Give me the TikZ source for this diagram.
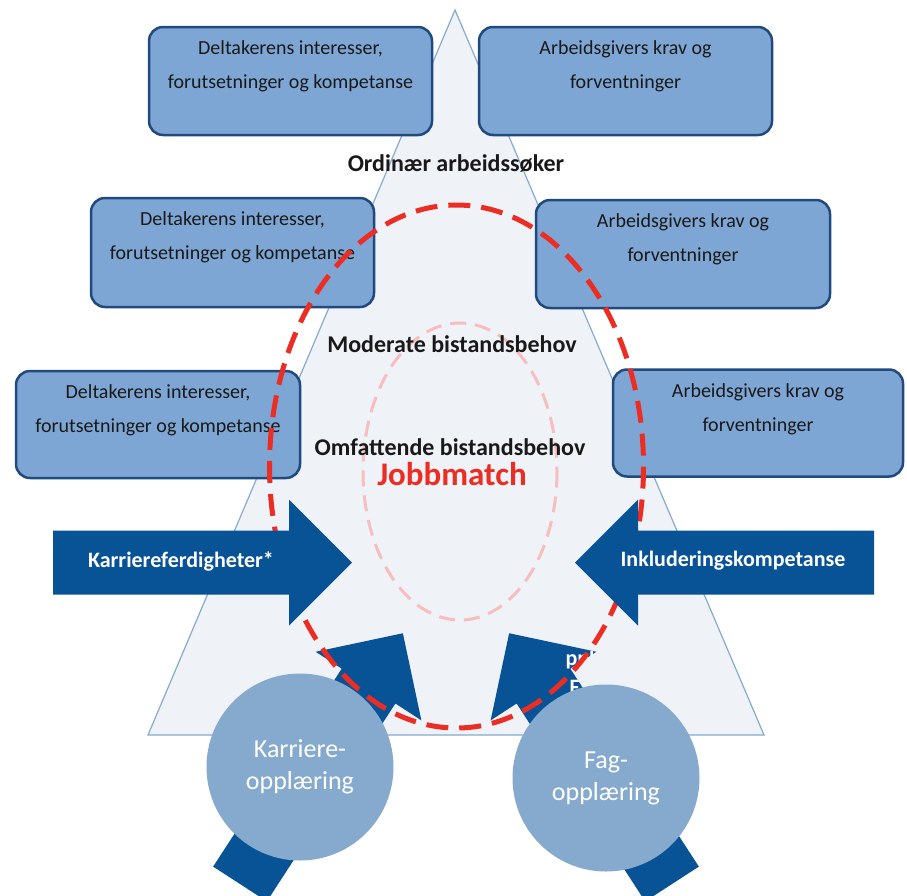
\documentclass[tikz,border=0pt]{standalone}
\usepackage{fontspec}
\setmainfont{Carlito}
\definecolor{boxblue}{RGB}{126,166,212}
\definecolor{boxedge}{RGB}{32,74,126}
\definecolor{arrowblue}{RGB}{8,82,150}
\definecolor{discblue}{RGB}{134,170,205}
\definecolor{trifill}{RGB}{239,242,247}
\definecolor{triedge}{RGB}{135,170,210}
\definecolor{jobred}{RGB}{236,45,35}
\definecolor{palered}{RGB}{246,190,190}
\tikzset{
    infobox/.style={draw=boxedge,fill=boxblue,line width=2.5pt,rounded corners=14pt},
    boxtext/.style={align=center,text=black!90,font=\fontsize{20}{34}\selectfont},
    level/.style={text=black!90,font=\bfseries\fontsize{24}{28}\selectfont},
    arrowtext/.style={text=white,font=\bfseries\fontsize{22}{28}\selectfont},
    disc/.style={circle,fill=discblue,minimum size=187pt,inner sep=0pt,align=center,text=white,font=\fontsize{26}{32}\selectfont},
    blockarrow/.pic={\fill[arrowblue] (0,-32) -- (236,-32) -- (236,-63) -- (299,0) -- (236,63) -- (236,32) -- (0,32) -- cycle;}
}
\begin{document}
\begin{tikzpicture}[x=1pt,y=-1pt]
    \fill[white] (0,0) rectangle (907,895);
    \useasboundingbox (0,0) rectangle (907,895);
    \draw[fill=trifill,draw=triedge,line width=1.2pt] (455,10) -- (764,735) -- (148,735) -- cycle;
    \draw[palered,line width=3pt,dash pattern=on 16pt off 9pt] (460,471.5) ellipse [x radius=97,y radius=148.5];
    \node[infobox,minimum width=283,minimum height=108] (delta1) at (290.5,81) {};
    \node[infobox,minimum width=293,minimum height=108] (arbeid1) at (625.5,81) {};
    \node[infobox,minimum width=283,minimum height=109] (delta2) at (232.5,252.5) {};
    \node[infobox,minimum width=294,minimum height=108] (arbeid2) at (683,254) {};
    \node[infobox,minimum width=284,minimum height=107] (delta3) at (158,424.5) {};
    \node[infobox,minimum width=290,minimum height=107] (arbeid3) at (758,423) {};
    \foreach \b in {delta1,delta2,delta3}
        \node[boxtext] (\b-txt) at ([yshift=-41pt]\b.north) {Deltakerens interesser,\\forutsetninger og kompetanse};
    \foreach \b in {arbeid1,arbeid2,arbeid3}
        \node[boxtext] (\b-txt) at ([yshift=-41pt]\b.north) {Arbeidsgivers krav og\\forventninger};
    \node[level] (ordinar) at (456,164) {Ordinær arbeidssøker};
    \node[level] (moderat) at (452,344) {Moderate bistandsbehov};
    \node[level] (omfatt) at (450,447) {Omfattende bistandsbehov};
    \node[text=jobred,font=\bfseries\fontsize{33}{36}\selectfont] (jobb) at (452,474) {Jobbmatch};
    \pic[rotate=57] at (240,884) {blockarrow};
    \pic[rotate=123] at (672,884) {blockarrow};
    \begin{scope}
        \clip[shift={(672,884)},rotate=123] (0,-32) -- (236,-32) -- (236,-63) -- (299,0) -- (236,63) -- (236,32) -- (0,32) -- cycle;
        \node[arrowtext,anchor=base west] (fagrest1) at (562,665) {ppl};
        \node[arrowtext,anchor=base west] (fagrest2) at (566,694) {F};
    \end{scope}
    \draw[jobred,line width=5pt,dash pattern=on 22pt off 11pt] (456.5,466.5) ellipse [x radius=187,y radius=261.5];
    \pic at (53,562.5) {blockarrow};
    \pic[rotate=180] at (874,562.5) {blockarrow};
    \node[arrowtext] (karrtxt) at (181,561) {Karriereferdigheter*};
    \node[arrowtext] (inkltxt) at (733,561) {Inkluderingskompetanse};
    \node[disc] (karrdisc) at (300,767) {Karriere-\\opplæring};
    \node[disc] (fagdisc) at (606,778) {Fag-\\opplæring};
\end{tikzpicture}
\end{document}
